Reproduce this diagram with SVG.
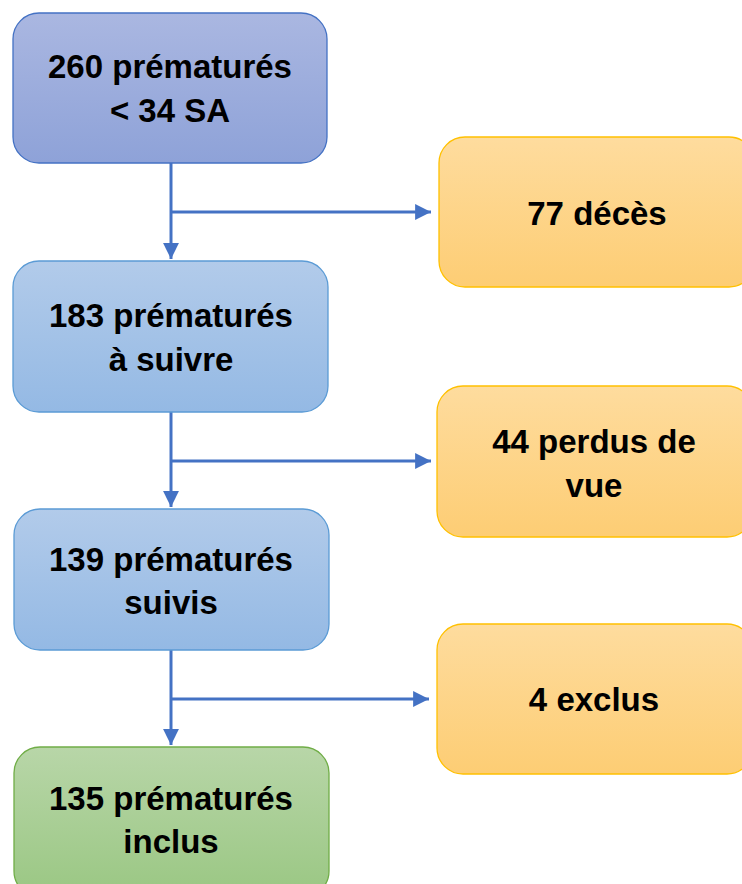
<svg xmlns="http://www.w3.org/2000/svg" width="742" height="884" viewBox="0 0 742 884">
<defs>
<linearGradient id="gPurple" x1="0" y1="0" x2="0" y2="1"><stop offset="0" stop-color="#aab7e1"/><stop offset="1" stop-color="#8ea2d8"/></linearGradient>
<linearGradient id="gBlue" x1="0" y1="0" x2="0" y2="1"><stop offset="0" stop-color="#b2cbea"/><stop offset="1" stop-color="#94b9e4"/></linearGradient>
<linearGradient id="gGreen" x1="0" y1="0" x2="0" y2="1"><stop offset="0" stop-color="#b8d6a8"/><stop offset="1" stop-color="#9ac783"/></linearGradient>
<linearGradient id="gOrange" x1="0" y1="0" x2="0" y2="1"><stop offset="0" stop-color="#fedc9e"/><stop offset="1" stop-color="#fdcd74"/></linearGradient>
<marker id="arr" viewBox="0 0 10 10" refX="10" refY="5" markerWidth="5.3" markerHeight="5.3" orient="auto" markerUnits="strokeWidth"><path d="M0,0 L10,5 L0,10 z" fill="#4472c4"/></marker>
</defs>
<style>
text{font-family:"Liberation Sans",Arial,sans-serif;font-weight:bold;font-size:33px;fill:#000;text-anchor:middle}
.box{stroke-width:1.3}
.conn{stroke:#4472c4;stroke-width:3;fill:none}
</style>
<g id="connectors">
<path class="conn" d="M171,163 V259" marker-end="url(#arr)"/>
<path class="conn" d="M171,212 H431" marker-end="url(#arr)"/>
<path class="conn" d="M171,412 V507" marker-end="url(#arr)"/>
<path class="conn" d="M171,461 H431" marker-end="url(#arr)"/>
<path class="conn" d="M171,650 V745" marker-end="url(#arr)"/>
<path class="conn" d="M171,699 H429" marker-end="url(#arr)"/>
</g>
<g id="n1"><rect class="box" x="13" y="13" width="314" height="150" rx="26" fill="url(#gPurple)" stroke="#4472c4"/><text x="170" y="78">260 prématurés</text><text x="170" y="122">&lt; 34 SA</text></g>
<g id="n2"><rect class="box" x="13" y="261" width="315" height="151" rx="26" fill="url(#gBlue)" stroke="#5b9bd5"/><text x="171" y="327">183 prématurés</text><text x="171" y="371">à suivre</text></g>
<g id="n3"><rect class="box" x="14" y="509" width="315" height="141" rx="26" fill="url(#gBlue)" stroke="#5b9bd5"/><text x="171" y="571">139 prématurés</text><text x="171" y="614">suivis</text></g>
<g id="n4"><rect class="box" x="14" y="747" width="315" height="150" rx="26" fill="url(#gGreen)" stroke="#70ad47"/><text x="171" y="810">135 prématurés</text><text x="171" y="853">inclus</text></g>
<g id="n5"><rect class="box" x="439" y="137" width="316" height="150" rx="26" fill="url(#gOrange)" stroke="#ffc000"/><text x="597" y="225">77 décès</text></g>
<g id="n6"><rect class="box" x="437" y="386" width="316" height="151" rx="26" fill="url(#gOrange)" stroke="#ffc000"/><text x="594" y="453">44 perdus de</text><text x="594" y="497">vue</text></g>
<g id="n7"><rect class="box" x="437" y="624" width="316" height="150" rx="26" fill="url(#gOrange)" stroke="#ffc000"/><text x="594" y="711">4 exclus</text></g>
</svg>
